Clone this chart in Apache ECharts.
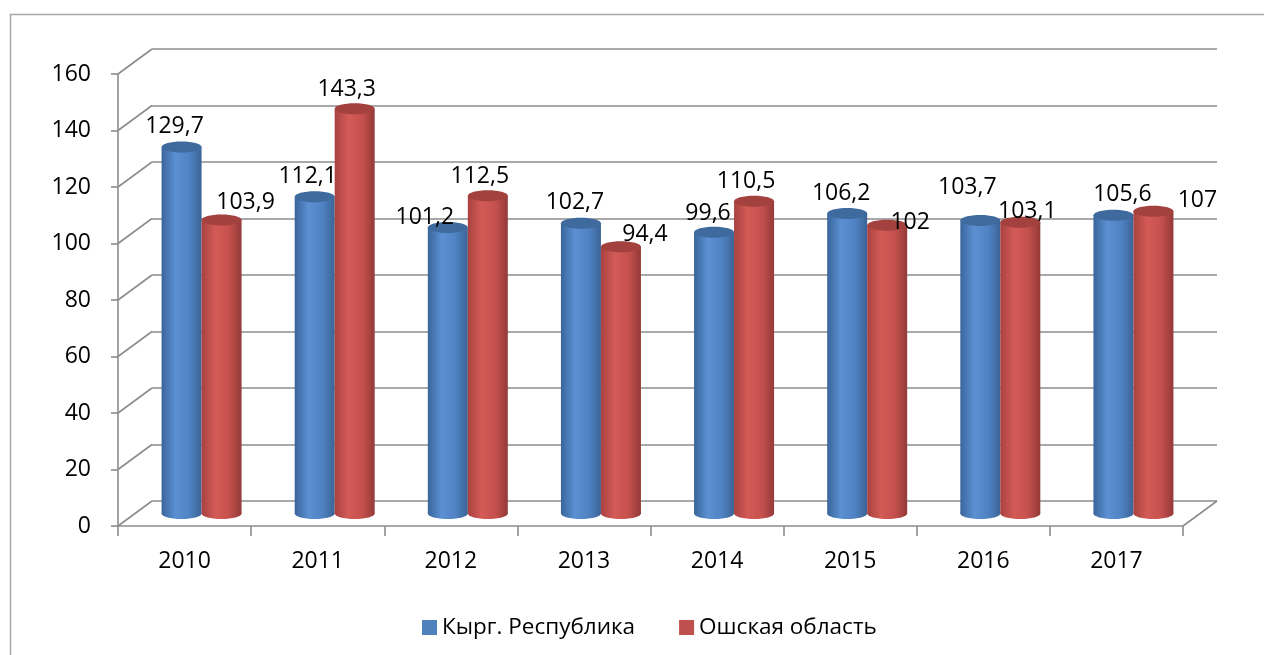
<!DOCTYPE html>
<html>
<head>
<meta charset="utf-8">
<script src="https://cdn.jsdelivr.net/npm/echarts@6/dist/echarts.min.js"></script>
<style>
  html, body { margin: 0; padding: 0; background: #fff; }
  #main { width: 1264px; height: 655px; }
</style>
</head>
<body>
<div id="main"></div>
<script>
// data
var years = ['2010', '2011', '2012', '2013', '2014', '2015', '2016', '2017'];
var kyrgyz = [129.7, 112.1, 101.2, 102.7, 99.6, 106.2, 103.7, 105.6];
var osh = [103.9, 143.3, 112.5, 94.4, 110.5, 102, 103.1, 107];
var seriesNames = ['Кырг. Республика', 'Ошская область'];
var yTicks = [0, 20, 40, 60, 80, 100, 120, 140, 160];

// label nudges (Excel places 3d labels a bit irregularly)
var nudgeKyrgyz = [[-7, -21], [-7, -20], [-23, -10], [-6, -21], [-6, -19], [-6, -20], [-13, -33], [9, -21]];
var nudgeOsh = [[24, -18], [-8, -19], [-8, -19], [24, -12], [-8, -20], [23, -3], [7, -11], [44, -11]];

// layout of the fake 3d box
var FRONT = { left: 118, top: 74, width: 1065, height: 452 };
var DEPTH = [34, -25];
var FONT = '"Open Sans", "Noto Sans", sans-serif';
var GRID_COLOR = '#8c8c8c';

var myChart = echarts.init(document.getElementById('main'));

function gridAt(k) {
  return {
    left: FRONT.left + DEPTH[0] * k,
    top: FRONT.top + DEPTH[1] * k,
    width: FRONT.width,
    height: FRONT.height,
    outerBoundsMode: 'none',
    containLabel: false
  };
}

var palettes = [
  { base: '#4F81BD', stops: ['#3a659b', '#5b90d3', '#4f82c2', '#3b6497'], cap: '#3f6a9d' },
  { base: '#C0504D', stops: ['#a8423f', '#d45b57', '#c4504d', '#933a37'], cap: '#a3413e' }
];

function bodyFill(p) {
  return new echarts.graphic.LinearGradient(0, 0, 1, 0, [
    { offset: 0, color: p.stops[0] },
    { offset: 0.35, color: p.stops[1] },
    { offset: 0.7, color: p.stops[2] },
    { offset: 1, color: p.stops[3] }
  ]);
}

function cylinderRenderer(which, nudges) {
  return function (params, api) {
    var idx = api.value(0);
    var val = api.value(1);
    var top = api.coord([idx, val]);
    var base = api.coord([idx, 0]);
    var w = 40;
    var cx = top[0] + (which === 0 ? -w / 2 : w / 2);
    var ry = 5.5;
    var p = palettes[which];
    var n = nudges[params.dataIndex];
    return {
      type: 'group',
      children: [
        { type: 'ellipse', shape: { cx: cx, cy: base[1], rx: w / 2, ry: ry }, style: { fill: bodyFill(p) } },
        { type: 'rect', shape: { x: cx - w / 2, y: top[1], width: w, height: base[1] - top[1] }, style: { fill: bodyFill(p) } },
        { type: 'ellipse', shape: { cx: cx, cy: top[1], rx: w / 2, ry: ry }, style: { fill: p.cap } },
        {
          type: 'text', x: cx + n[0], y: top[1] + n[1], z2: 10,
          style: {
            text: String(val).replace('.', ','), fill: '#000',
            fontSize: 23, fontFamily: FONT, align: 'center', verticalAlign: 'middle'
          }
        }
      ]
    };
  };
}

// diagonal edges of the left wall and the floor
function edgeRenderer(params, api) {
  var v = api.value(0);
  var cs = params.coordSys;
  var y = api.coord([0, v])[1];
  var lines = [{
    type: 'line',
    shape: { x1: cs.x, y1: y, x2: cs.x + DEPTH[0], y2: y + DEPTH[1] },
    style: { stroke: GRID_COLOR, lineWidth: 1.6 }
  }];
  if (v === 0) {
    lines.push({
      type: 'line',
      shape: { x1: cs.x + cs.width, y1: y, x2: cs.x + cs.width + DEPTH[0], y2: y + DEPTH[1] },
      style: { stroke: GRID_COLOR, lineWidth: 1.6 }
    });
  }
  return { type: 'group', children: lines };
}

var valueAxisBase = { type: 'value', min: 0, max: 160, interval: 20 };

var option = {
  backgroundColor: '#fff',
  animation: false,
  graphic: [{
    type: 'rect', left: 8, top: 12,
    shape: { width: 1300, height: 700 },
    style: { fill: 'none', stroke: '#a6a6a6', lineWidth: 1.5 },
    z: -10
  }],
  legend: {
    data: seriesNames,
    left: 417, top: 611,
    itemWidth: 15, itemHeight: 15, itemGap: 44,
    icon: 'rect',
    textStyle: { fontSize: 22.5, fontFamily: FONT, color: '#000' }
  },
  grid: [gridAt(1), gridAt(0), gridAt(0.5)],
  xAxis: [
    { gridIndex: 0, type: 'category', data: years, show: false },
    {
      gridIndex: 1, type: 'category', data: years,
      axisLine: { show: true, lineStyle: { color: GRID_COLOR, width: 1.6 } },
      axisTick: { show: true, length: 10, lineStyle: { color: GRID_COLOR, width: 1.6 } },
      axisLabel: { margin: 24, fontSize: 23, fontFamily: FONT, color: '#000' },
      splitLine: { show: false }
    },
    { gridIndex: 2, type: 'category', data: years, show: false }
  ],
  yAxis: [
    Object.assign({}, valueAxisBase, {
      gridIndex: 0,
      axisLine: { show: false }, axisTick: { show: false }, axisLabel: { show: false },
      splitLine: { show: true, lineStyle: { color: GRID_COLOR, width: 1.6 } }
    }),
    Object.assign({}, valueAxisBase, {
      gridIndex: 1,
      axisLine: { show: true, lineStyle: { color: GRID_COLOR, width: 1.6 } },
      axisTick: { show: true, length: 7, lineStyle: { color: GRID_COLOR, width: 1.6 } },
      axisLabel: { margin: 27, fontSize: 23, fontFamily: FONT, color: '#000' },
      splitLine: { show: false }
    }),
    Object.assign({}, valueAxisBase, { gridIndex: 2, show: false, splitLine: { show: false } })
  ],
  series: [
    {
      type: 'custom', name: 'edges', xAxisIndex: 1, yAxisIndex: 1,
      data: yTicks.map(function (t) { return [t]; }),
      encode: { y: 0 },
      renderItem: edgeRenderer, silent: true, clip: false, z: 1
    },
    {
      type: 'custom', name: seriesNames[0], xAxisIndex: 2, yAxisIndex: 2,
      itemStyle: { color: palettes[0].base },
      data: kyrgyz.map(function (v, i) { return [i, v]; }),
      encode: { x: 0, y: 1 },
      renderItem: cylinderRenderer(0, nudgeKyrgyz), clip: false, z: 3
    },
    {
      type: 'custom', name: seriesNames[1], xAxisIndex: 2, yAxisIndex: 2,
      itemStyle: { color: palettes[1].base },
      data: osh.map(function (v, i) { return [i, v]; }),
      encode: { x: 0, y: 1 },
      renderItem: cylinderRenderer(1, nudgeOsh), clip: false, z: 3
    }
  ]
};

myChart.setOption(option);
</script>
</body>
</html>
